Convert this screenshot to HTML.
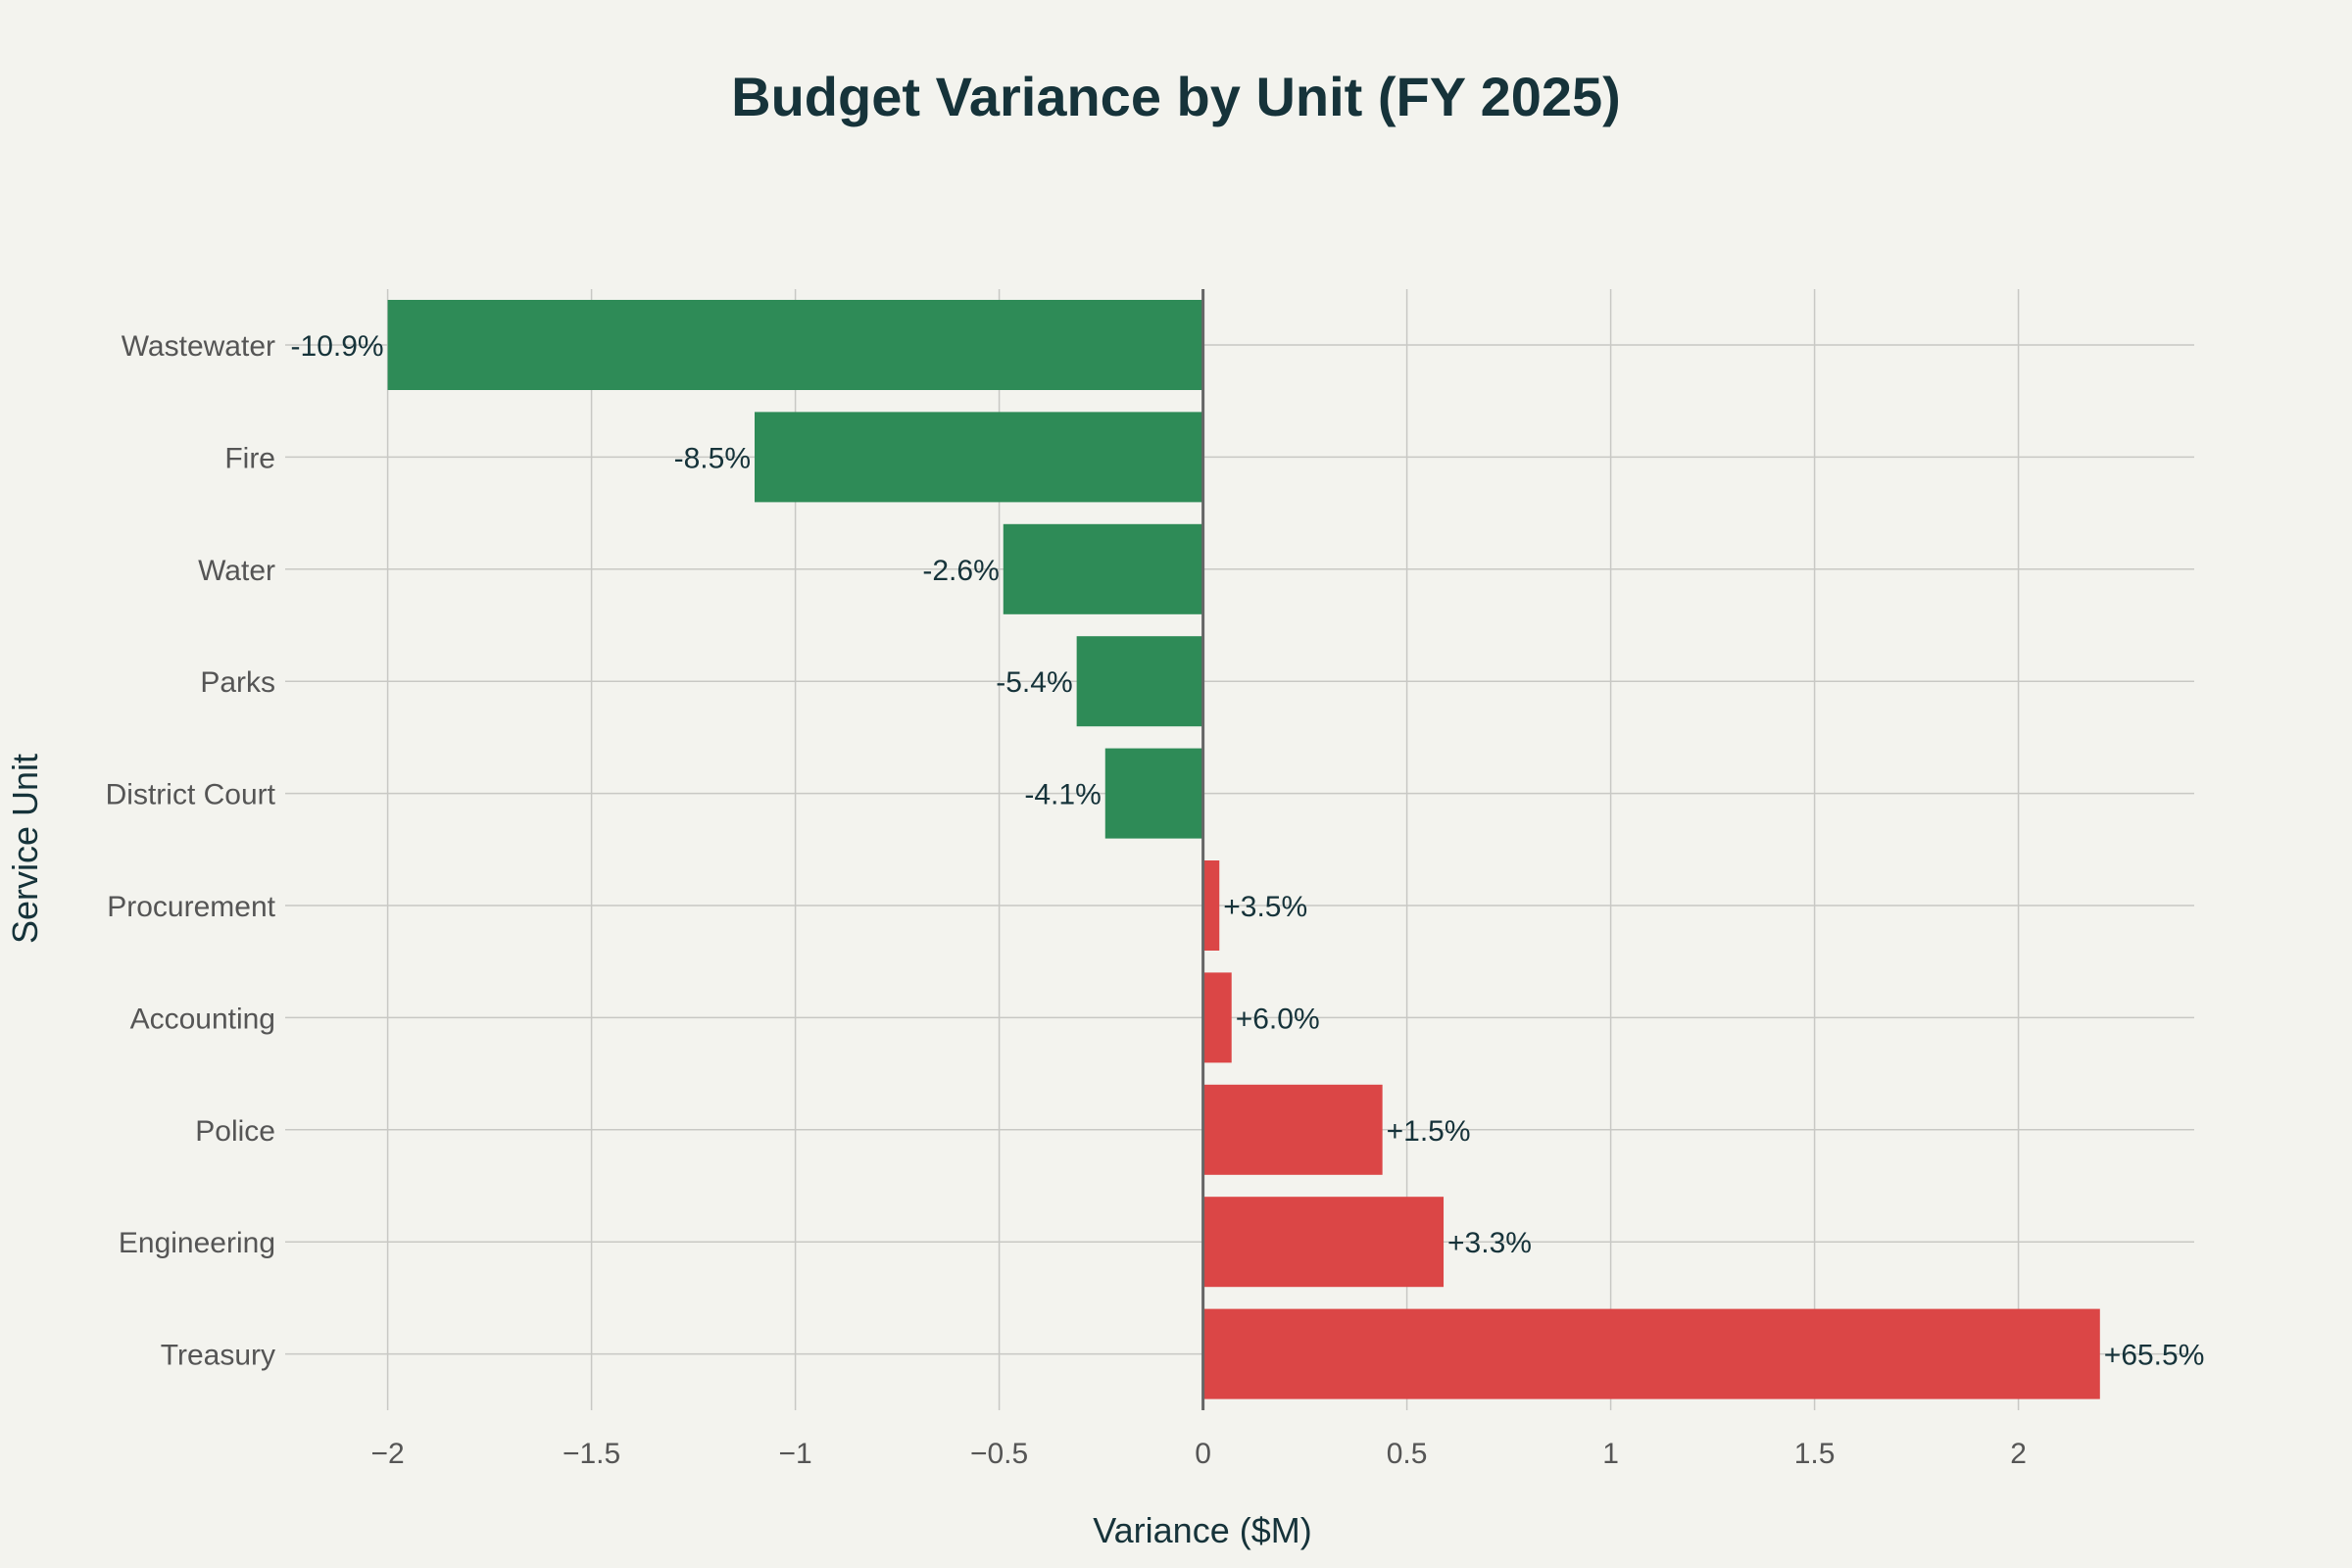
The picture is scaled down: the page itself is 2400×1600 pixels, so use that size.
<!DOCTYPE html>
<html><head><meta charset="utf-8"><style>
html,body{margin:0;padding:0;background:#f3f3ee;}
svg{display:block;font-family:"Liberation Sans",sans-serif;}
</style></head><body>
<svg id="chart" width="2400" height="1600">
<rect width="2400" height="1600" fill="#f3f3ee"/>
<text x="1200" y="118" text-anchor="middle" font-size="56" font-weight="bold" fill="#16333a">Budget Variance by Unit (FY 2025)</text>
<g id="grid"></g><g id="bars"></g><g id="labels"></g>
<text x="1227" y="1574" text-anchor="middle" font-size="36" fill="#16333a">Variance ($M)</text>
<text transform="translate(38,866) rotate(-90)" text-anchor="middle" font-size="36" fill="#16333a">Service Unit</text>
</svg>
<script>
const categories=["Wastewater","Fire","Water","Parks","District Court","Procurement","Accounting","Police","Engineering","Treasury"];
const values=[-2.0,-1.1,-0.49,-0.31,-0.24,0.04,0.07,0.44,0.59,2.2];
const pctLabels=["-10.9%","-8.5%","-2.6%","-5.4%","-4.1%","+3.5%","+6.0%","+1.5%","+3.3%","+65.5%"];
const xTicks=[-2,-1.5,-1,-0.5,0,0.5,1,1.5,2];
const xTickLabels=["−2","−1.5","−1","−0.5","0","0.5","1","1.5","2"];
const NS="http://www.w3.org/2000/svg";
const plotL=291,plotR=2239,plotT=295,plotB=1439;
const x=v=>1227.6+v*416;
const rowStep=114.4;
const y=i=>352+i*rowStep;
function mk(tag,attrs,parent,txt){const e=document.createElementNS(NS,tag);for(const k in attrs)e.setAttribute(k,attrs[k]);if(txt!=null)e.textContent=txt;document.getElementById(parent).appendChild(e);return e;}
xTicks.forEach((t,i)=>{
  if(t!==0){const l=mk('line',{x1:x(t),x2:x(t),y1:plotT,y2:plotB,stroke:'#c8c8c4','stroke-width':1.5},'grid');
  
  }
  const tx=mk('text',{x:x(t),y:1493,'text-anchor':'middle','font-size':30,fill:'#555'},'labels',xTickLabels[i]);
  
  
});
categories.forEach((c,i)=>{
  const g=mk('line',{x1:plotL,x2:plotR,y1:y(i),y2:y(i),stroke:'#c8c8c4','stroke-width':1.5},'grid');
  
  
  const v=values[i];const x0=x(0),x1=x(v);
  const r=mk('rect',{x:Math.min(x0,x1),y:y(i)-46,width:Math.abs(x1-x0),height:92,fill:v<0?'#2e8b57':'#db4646'},'bars');
  
  
  const t=mk('text',{x:v<0?x1-4:x1+4,y:y(i)+11,'text-anchor':v<0?'end':'start','font-size':30,fill:'#16333a'},'labels',pctLabels[i]);
  
  
  const cl=mk('text',{x:281,y:y(i)+11,'text-anchor':'end','font-size':30,fill:'#555'},'labels',c);
  
  
});
const z=mk('line',{x1:x(0),x2:x(0),y1:plotT,y2:plotB,stroke:'#666','stroke-width':3},'labels');


</script>
</body></html>
